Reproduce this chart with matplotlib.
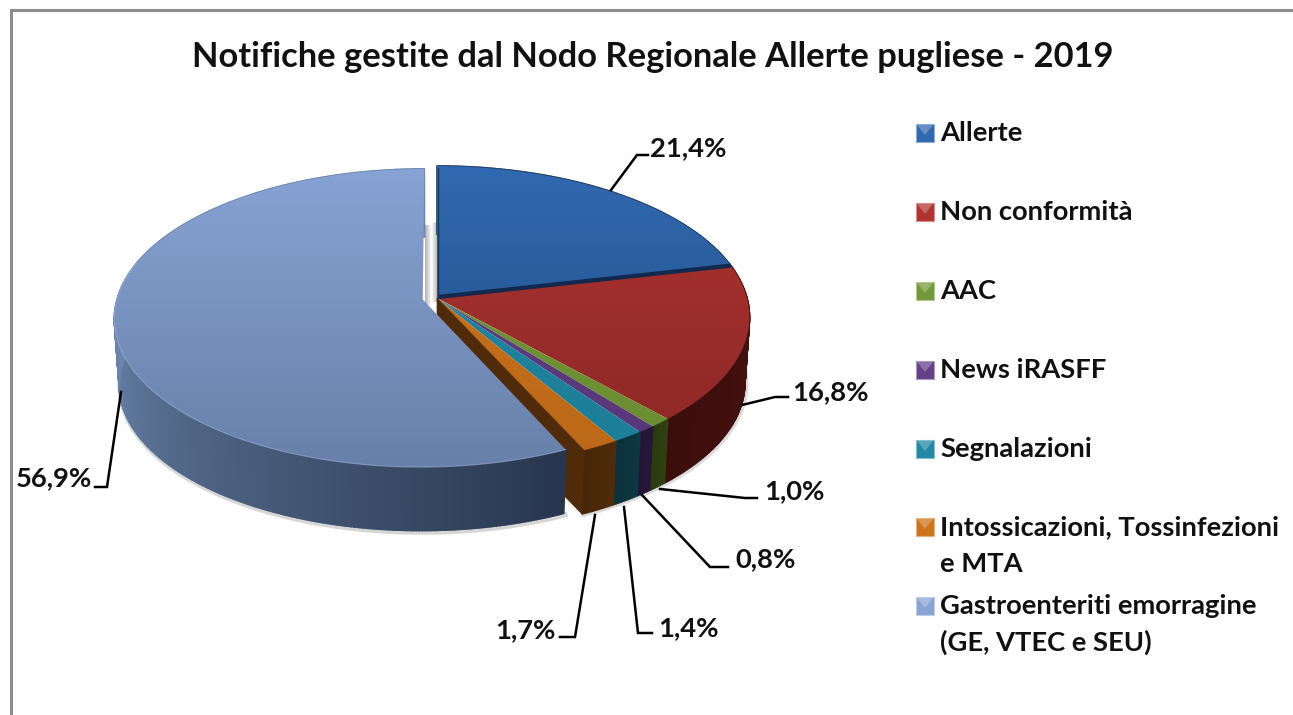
import numpy as np
import matplotlib
matplotlib.use("Agg")
import matplotlib.pyplot as plt
from matplotlib.patches import Polygon, Rectangle
from matplotlib.colors import to_rgb

TITLE = "Notifiche gestite dal Nodo Regionale Allerte pugliese - 2019"
categories = ["Allerte", "Non conformità", "AAC", "News iRASFF", "Segnalazioni",
              "Intossicazioni, Tossinfezioni\ne MTA", "Gastroenteriti emorragine\n(GE, VTEC e SEU)"]
values = [21.4, 16.8, 1.0, 0.8, 1.4, 1.7, 56.9]
value_labels = ["21,4%", "16,8%", "1,0%", "0,8%", "1,4%", "1,7%", "56,9%"]
top_light = ["#3169b0", "#ad3431", "#73983a", "#634089", "#2288a6", "#cc731c", "#88a3d4"]
top_dark = ["#1f4a80", "#8a2725", "#6a8c30", "#573678", "#1d7d96", "#bb6818", "#6880a8"]
side_light = ["#1c3a60", "#4a1210", "#2f4012", "#261739", "#0d3742", "#4f2b0a", "#6c86ae"]
side_dark = ["#1c3a60", "#3b0e0c", "#2a3a10", "#221434", "#0b303a", "#472608", "#27364d"]

# pie geometry in figure pixels
CX, CY, R, B, K, DEPTH, SHRINK = 437, 298, 310, 148.6, 0.126, 66, 0.985
EXPLODE = {6: 0.047}
RADIUS = {6: 0.985}

FONT = "Lato"
fig = plt.figure(figsize=(12.93, 7.15), dpi=100, facecolor="white")
ax = fig.add_axes([0, 0, 1, 1])
ax.set_xlim(0, 1293)
ax.set_ylim(715, 0)
ax.axis("off")


def project(theta, r=1.0, bottom=False, offset=(0.0, 0.0)):
    t = np.radians(theta)
    u = r * np.sin(t) + offset[0]
    v = -r * np.cos(t) + offset[1]
    s = 1 / (1 - K * v)
    x, y = R * u * s, B * v * s
    if bottom:
        return CX + x * SHRINK, CY + y * SHRINK + DEPTH
    return CX + x, CY + y


def mix(a, b, f):
    a, b = np.array(to_rgb(a)), np.array(to_rgb(b))
    return tuple(a + (b - a) * f)


def wedge_offset(i, a0, a1):
    e = EXPLODE.get(i, 0.0)
    mid = np.radians((a0 + a1) / 2)
    return (e * np.sin(mid), -e * np.cos(mid))


def draw_side(i, a0, a1, off, z):
    r = RADIUS.get(i, 1.0)
    angs = np.linspace(a0, a1, max(3, int((a1 - a0) * 2)))
    for p, q in zip(angs[:-1], angs[1:]):
        if i == 6:
            c = mix(side_dark[i], side_light[i], np.clip((p - a0) / (270 - a0), 0, 1))
        else:
            c = mix(side_light[i], side_dark[i], (p - a0) / max(a1 - a0, 1e-6))
        pts = [project(p, r, offset=off), project(q, r, offset=off),
               project(q, r, bottom=True, offset=off), project(p, r, bottom=True, offset=off)]
        ax.add_patch(Polygon(pts, closed=True, fc=c, ec=c, lw=1.2, zorder=z))


def draw_top(i, a0, a1, off, z):
    r = RADIUS.get(i, 1.0)
    angs = np.linspace(a0, a1, max(3, int((a1 - a0) * 2)))
    pts = [project(0, r=0, offset=off)] + [project(a, r, offset=off) for a in angs]
    poly = Polygon(pts, closed=True, fc="none", ec="none", zorder=z, transform=ax.transData)
    ax.add_patch(poly)
    xs, ys = zip(*pts)
    c0, c1 = to_rgb(top_light[i]), to_rgb(top_dark[i])
    y0, y1 = CY - 135, CY + 175
    grad = np.linspace(0, 1, 64)[:, None, None]
    img = np.array(c0)[None, None, :] * (1 - grad) + np.array(c1)[None, None, :] * grad
    im = ax.imshow(img, extent=(min(xs) - 2, max(xs) + 2, y1, y0), aspect="auto",
                   zorder=z, interpolation="bilinear")
    im.set_clip_path(poly)


edges = np.concatenate([[0], np.cumsum(values)]) * 3.6
off6 = wedge_offset(6, edges[6], edges[7])

# gray inner shadow walls in the exploded gap
for k in range(6):
    shade = mix("#b4b4b4", "#ffffff", k / 6)
    ax.add_patch(Rectangle((425 + k, 225), 1.2, 80, fc=shade, ec="none", zorder=1))
    ax.add_patch(Rectangle((437 - k, 222), 1.2, 80, fc=shade, ec="none", zorder=1))

# soft ground shadow under the body
angs = np.linspace(edges[6], 300, 120)
sx, sy = zip(*[project(a, RADIUS[6], bottom=True, offset=off6) for a in angs])
ax.plot(np.array(sx) + 1, np.array(sy) + 1.5, color="#8a8a8a", alpha=0.35, lw=4, zorder=1)
angs = np.linspace(60, edges[6], 120)
sx, sy = zip(*[project(a, bottom=True) for a in angs])
ax.plot(np.array(sx) + 1.5, np.array(sy) + 1, color="#8a8a8a", alpha=0.3, lw=3, zorder=1)

# outer sides of the wedges that stay in place
for i in range(6):
    draw_side(i, edges[i], edges[i + 1], (0, 0), 2)
# tops
for i in range(6):
    draw_top(i, edges[i], edges[i + 1], (0, 0), 3)
# dark seam under first wedge
sx, sy = project(edges[1])
ax.plot([CX + 1, sx], [CY - 1, sy], color="#10294d", lw=3, zorder=4, solid_capstyle="butt")
ax.plot([CX + 1, CX + 1], [CY, CY - 130], color="#16375f", lw=1, zorder=4)

# cut wall of the sixth wedge, exposed by the exploded slice
wx, wy = project(edges[6])
wbx, wby = project(edges[6], bottom=True)
ax.add_patch(Polygon([(CX, CY), (wx, wy), (wbx, wby), (CX, CY + DEPTH)], closed=True,
                     fc=side_light[5], ec=side_light[5], lw=0.5, zorder=4))

# exploded slice
draw_side(6, edges[6], edges[7], off6, 5)
draw_top(6, edges[6], edges[7], off6, 6)
angs = np.linspace(edges[6], 285, 150)
rx, ry = zip(*[project(a, RADIUS[6], offset=off6) for a in angs])
ax.plot(rx, ry, color="#a3b8de", lw=0.8, alpha=0.55, zorder=6.5)

# leader lines and value labels
leader_x = [[611, 637, 648], [742, 775, 788], [660, 745, 757], [642, 710, 728],
            [624, 638, 652], [595, 575, 560], [121, 107, 95]]
leader_y = [[190, 155, 155], [405, 397, 397], [489, 498, 498], [495, 567, 567],
            [507, 633, 633], [515, 637, 637], [392, 487, 487]]
label_x = [650, 792, 764, 735, 658, 495, 16]
label_y = [156, 400, 499, 567, 636, 638, 486]
for lx, ly, tx, ty, s in zip(leader_x, leader_y, label_x, label_y, value_labels):
    ax.plot(lx, ly, color="black", lw=1.8, zorder=7, solid_joinstyle="miter")
    ax.text(tx, ty, s, fontsize=19.7, fontweight="bold", family=FONT, color="#111111",
            ha="left", va="baseline", zorder=8)

# legend
legend_y = [141, 220, 299, 378, 457, 535, 614]
for i, (name, y) in enumerate(zip(categories, legend_y)):
    x0 = 916
    s = 18
    yc = y - 8
    ax.add_patch(Rectangle((x0, yc - s / 2), s, s, fc=top_light[i], ec=mix(top_light[i], "white", 0.45),
                           lw=0.8, zorder=5))
    ax.add_patch(Polygon([(x0 + 1, yc - s / 2 + 1), (x0 + s - 1, yc - s / 2 + 1), (x0 + s / 2, yc + 2)],
                         closed=True, fc=mix(top_light[i], "white", 0.25), ec="none", zorder=6))
    for j, line in enumerate(name.split("\n")):
        ax.text(940, y + j * 37, line, fontsize=19.7, fontweight="bold", family=FONT,
                color="#111111", ha="left", va="baseline", zorder=8)

ax.text(653, 67, TITLE, fontsize=24.85, fontweight="bold", family=FONT, color="#111111",
        ha="center", va="baseline", zorder=8)

# chart frame
ax.plot([10.5, 10.5, 1293], [715, 10, 10], color="#8c8c8c", lw=2.2, zorder=9,
        solid_joinstyle="miter")

fig.savefig("out.png", dpi=100, facecolor="white")
